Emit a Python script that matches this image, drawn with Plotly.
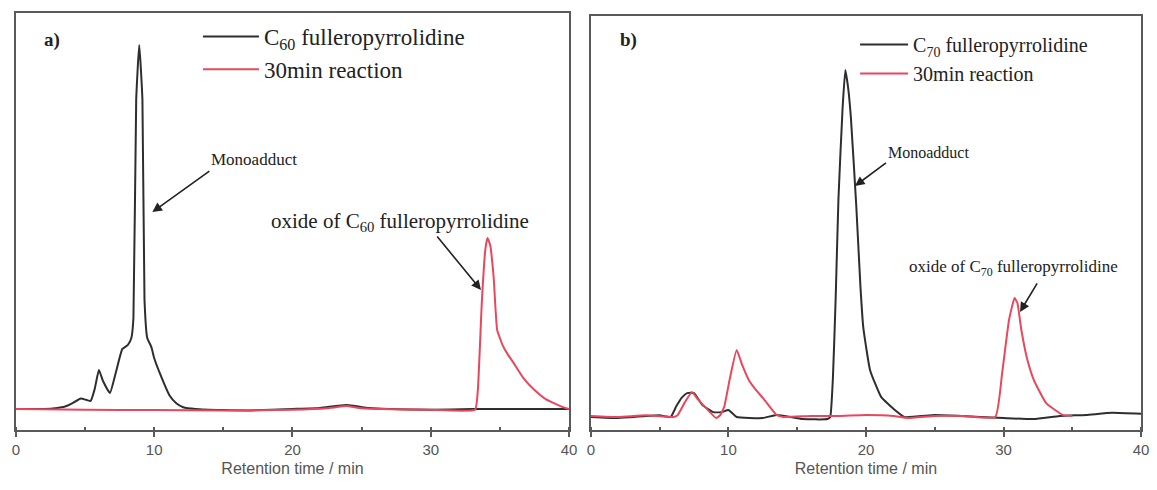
import plotly.graph_objects as go

# ---------------- data (intensity in a.u., main peak of each panel = 100) ----------------
# panel a) C60
a_black_t = [0, 2.0, 3.0, 3.5, 4.0, 4.7, 5.4, 5.7, 6.0, 6.3, 6.8, 7.2, 7.7, 8.1, 8.35, 8.5, 8.7, 8.92,
             9.15, 9.3, 9.5, 9.8, 10.0, 10.4, 11.1, 11.6, 12.1, 13.0, 15.0, 17.0, 20.0, 22.0, 23.9, 25.5,
             27.0, 30.0, 33.0, 35.0, 40.0]
a_black_i = [0, 0, 0.3, 0.6, 1.4, 2.9, 2.2, 5.5, 10.7, 7.7, 4.4, 9.6, 16.5, 17.6, 19.5, 25, 85, 100,
             85, 30, 19.5, 17, 14, 9.9, 3.8, 1.6, 0.5, 0, -0.3, -0.4, 0, 0.3, 1.1, 0.3,
             0, -0.2, 0, 0, 0]
a_red_t = [0, 5, 10, 15, 20, 22.5, 23.9, 25, 30, 33.2, 33.4, 33.7, 33.95, 34.1, 34.3, 34.55, 34.8,
           35.2, 35.6, 36.0, 36.7, 37.5, 38.2, 38.9, 39.5, 40]
a_red_i = [0, -0.2, -0.3, -0.4, -0.2, 0.2, 0.8, 0.2, -0.2, -0.2, 5, 30, 44, 47, 45, 36, 21.7,
           17.5, 14.8, 12.6, 8.5, 5.2, 3.0, 1.6, 0.6, 0]

# panel b) C70
b_black_t = [0, 2, 4, 5, 5.8, 6.2, 6.6, 7.0, 7.5, 8.1, 8.9, 9.5, 10.0, 10.6, 12.5, 13.5, 15.4, 17.2,
             17.4, 17.6, 17.8, 18.0, 18.3, 18.5, 18.7, 18.9, 19.3, 19.6, 19.8, 20.3, 21.1, 22.1, 22.8,
             25, 27, 28.3, 30, 32.2, 34.1, 36, 37.9, 40]
b_black_i = [0, -0.3, 0.3, 0.5, 0, 3, 5.5, 6.9, 6.9, 3.5, 1.4, 1.4, 2.0, 0, -0.3, 0.6, -0.6, -0.6,
             0, 11.5, 34.6, 63, 89, 100, 95, 86.5, 60.5, 37.5, 26, 13.5, 5.8, 2.0, 0,
             0.6, 0.3, 0, -0.3, -0.6, 0.3, 0.6, 1.2, 0.9]
b_red_t = [0, 2, 4, 6.0, 6.3, 6.8, 7.35, 7.8, 8.3, 9.1, 9.4, 9.7, 10.1, 10.6, 11.0, 11.5, 12.0, 12.5,
           13.0, 13.5, 14, 16, 18, 20, 22, 23, 25, 27, 29.4, 29.9, 30.4, 30.8, 31.0, 31.3, 31.7,
           32.2, 33.1, 34.3, 35.0]
b_red_i = [0.3, 0, 0.5, 0, 0.5, 4, 7.2, 5, 2.9, -0.3, 0.5, 3, 11, 19.3, 15, 10.5, 7.8, 5.5,
           3, 0.6, 0, 0.3, 0.3, 0.6, 0.3, -0.3, 0.3, 0.3, 0, 12.7, 28, 34.3, 33, 25, 17,
           10.7, 4.0, 0.6, 0.3]

x_ticks = [0, 10, 20, 30, 40]
names_a = ["C<sub>60</sub> fulleropyrrolidine", "30min reaction"]
names_b = ["C<sub>70</sub> fulleropyrrolidine", "30min reaction"]

BLACK = "#2e2e2e"
RED = "#e8475d"
FRAME = "#5a5a5a"
GREY_TXT = "#555555"
SERIF = "Liberation Serif"
SANS = "Liberation Sans"

fig = go.Figure()
fig.add_trace(go.Scatter(x=a_black_t, y=a_black_i, mode="lines", name=names_a[0],
                         line=dict(color=BLACK, width=2, shape="spline", smoothing=0.4),
                         xaxis="x", yaxis="y", legend="legend", legendgroup="a1"))
fig.add_trace(go.Scatter(x=a_red_t, y=a_red_i, mode="lines", name=names_a[1],
                         line=dict(color=RED, width=2, shape="spline", smoothing=0.4),
                         xaxis="x", yaxis="y", legend="legend", legendgroup="a2"))
fig.add_trace(go.Scatter(x=b_black_t, y=b_black_i, mode="lines", name=names_b[0],
                         line=dict(color=BLACK, width=2, shape="spline", smoothing=0.4),
                         xaxis="x2", yaxis="y2", legend="legend2", legendgroup="b"))
fig.add_trace(go.Scatter(x=b_red_t, y=b_red_i, mode="lines", name=names_b[1],
                         line=dict(color=RED, width=2, shape="spline", smoothing=0.4),
                         xaxis="x2", yaxis="y2", legend="legend2", legendgroup="b"))

W, H = 1157, 490

def xax(domain, anchor):
    return dict(domain=domain, anchor=anchor, range=[0, 40], tickvals=x_ticks,
                ticks="outside", ticklen=5, tickwidth=1.5, tickcolor=FRAME,
                minor=dict(dtick=5, ticks="inside", ticklen=3, tickcolor=FRAME, tickwidth=1.5),
                showline=True, linecolor=FRAME, linewidth=2, mirror=True,
                showgrid=False, zeroline=False,
                tickfont=dict(family=SANS, size=15, color=GREY_TXT),
                title=dict(text="Retention time / min", standoff=6,
                           font=dict(family=SANS, size=16, color=GREY_TXT)))

def yax(domain, anchor, rng):
    return dict(domain=domain, anchor=anchor, range=rng, showticklabels=False, ticks="",
                showline=True, linecolor=FRAME, linewidth=2, mirror=True,
                showgrid=False, zeroline=False)

fig.update_layout(
    width=W, height=H, margin=dict(l=0, r=0, t=0, b=0),
    paper_bgcolor="white", plot_bgcolor="white",
    xaxis=xax([12 / W, 571 / W], "y"),
    yaxis=yax([60 / H, 477 / H], "x", [-5.77, 108.8]),
    xaxis2=xax([593 / W, 1149 / W], "y2"),
    yaxis2=yax([60 / H, 474 / H], "x2", [-3.75, 115.6]),
    legend=dict(x=196 / W, y=1 - 15 / H, xanchor="left", yanchor="top",
                font=dict(family=SERIF, size=23, color="#222"), bgcolor="rgba(0,0,0,0)",
                itemwidth=56, tracegroupgap=5, traceorder="normal"),
    legend2=dict(x=860 / W, y=1 - 25 / H, xanchor="left", yanchor="top",
                 font=dict(family=SERIF, size=20, color="#222"), bgcolor="rgba(0,0,0,0)",
                 itemwidth=48, tracegroupgap=0, traceorder="normal", groupclick="toggleitem"),
    showlegend=True,
)

# panel labels
fig.add_annotation(text="<b>a)</b>", xref="paper", yref="paper", x=38 / W, y=1 - 40 / H,
                   xanchor="left", yanchor="middle", showarrow=False,
                   font=dict(family=SERIF, size=19, color="#222"))
fig.add_annotation(text="<b>b)</b>", xref="paper", yref="paper", x=620 / W, y=1 - 40 / H,
                   xanchor="left", yanchor="middle", showarrow=False,
                   font=dict(family=SERIF, size=19, color="#222"))

ARROW = dict(showarrow=True, arrowhead=2, arrowsize=1.2, arrowwidth=1.6, arrowcolor="#222")

# labels with arrows (panel a)
fig.add_annotation(text="Monoadduct", x=9.87, y=54.1, xref="x", yref="y", ax=57, ay=-41,
                   xanchor="left", yanchor="bottom",
                   font=dict(family=SERIF, size=17, color="#222"), **ARROW)
fig.add_annotation(text="oxide of C<sub>60</sub> fulleropyrrolidine", x=18.3, y=51.4, xref="x",
                   yref="y", xanchor="left", yanchor="middle", showarrow=False,
                   font=dict(family=SERIF, size=21, color="#222"))
fig.add_annotation(text="", x=33.63, y=32.7, xref="x", yref="y", ax=-45, ay=-55, **ARROW)

# labels with arrows (panel b)
fig.add_annotation(text="Monoadduct", x=19.2, y=66.6, xref="x2", yref="y2", ax=31, ay=-23,
                   xanchor="left", yanchor="bottom",
                   font=dict(family=SERIF, size=16, color="#222"), **ARROW)
fig.add_annotation(text="oxide of C<sub>70</sub> fulleropyrrolidine", x=23.0, y=42.9, xref="x2",
                   yref="y2", xanchor="left", yanchor="middle", showarrow=False,
                   font=dict(family=SERIF, size=17, color="#222"))
fig.add_annotation(text="", x=31.2, y=30.3, xref="x2", yref="y2", ax=18, ay=-30, **ARROW)

fig.write_html("out.html")
